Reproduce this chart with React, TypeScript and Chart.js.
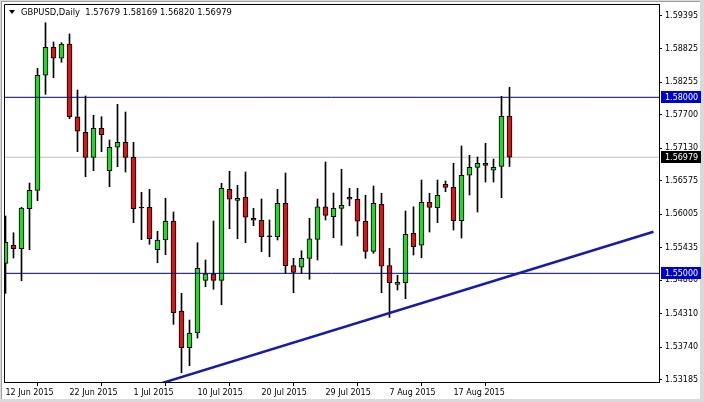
import React, { useEffect, useRef } from 'react';
import { Chart, registerables } from 'chart.js';
Chart.register(...registerables);

const symbolTitle = 'GBPUSD,Daily';

const dates = [
  '12 Jun 2015','14 Jun 2015','15 Jun 2015','16 Jun 2015','17 Jun 2015','18 Jun 2015','19 Jun 2015','21 Jun 2015',
  '22 Jun 2015','23 Jun 2015','24 Jun 2015','25 Jun 2015','26 Jun 2015','28 Jun 2015','29 Jun 2015','30 Jun 2015',
  '1 Jul 2015','2 Jul 2015','3 Jul 2015','5 Jul 2015','6 Jul 2015','7 Jul 2015','8 Jul 2015','9 Jul 2015',
  '10 Jul 2015','12 Jul 2015','13 Jul 2015','14 Jul 2015','15 Jul 2015','16 Jul 2015','17 Jul 2015','19 Jul 2015',
  '20 Jul 2015','21 Jul 2015','22 Jul 2015','23 Jul 2015','24 Jul 2015','26 Jul 2015','27 Jul 2015','28 Jul 2015',
  '29 Jul 2015','30 Jul 2015','31 Jul 2015','2 Aug 2015','3 Aug 2015','4 Aug 2015','5 Aug 2015','6 Aug 2015',
  '7 Aug 2015','9 Aug 2015','10 Aug 2015','11 Aug 2015','12 Aug 2015','13 Aug 2015','14 Aug 2015','16 Aug 2015',
  '17 Aug 2015','18 Aug 2015','19 Aug 2015','20 Aug 2015','21 Aug 2015','23 Aug 2015','24 Aug 2015','25 Aug 2015',
];

const opens = [
  1.55171, 1.55478, 1.55420, 1.56101, 1.56415, 1.58375, 1.58852, 1.58665,
  1.58908, 1.57669, 1.57403, 1.56977, 1.57472, 1.56749, 1.57148, 1.57233,
  1.56977, 1.56113, 1.56125, 1.55403, 1.55568, 1.55892, 1.54358, 1.53732,
  1.53983, 1.54881, 1.54993, 1.54881, 1.56432, 1.56244, 1.56296, 1.55938,
  1.55904, 1.55624, 1.55624, 1.56193, 1.55130, 1.55103, 1.55256, 1.55580,
  1.56135, 1.55965, 1.56108, 1.56296, 1.56262, 1.55887, 1.55375, 1.56176,
  1.55130, 1.54813, 1.54840, 1.55682, 1.55478, 1.56210, 1.56118, 1.56517,
  1.56466, 1.55897, 1.56671, 1.56807, 1.56875, 1.56756, 1.56824, 1.57679,
];

const highs = [
  1.55977, 1.55692, 1.56125, 1.56539, 1.58494, 1.59271, 1.58943, 1.58931,
  1.59079, 1.58124, 1.58022, 1.57693, 1.57669, 1.57272, 1.57881, 1.57749,
  1.57233, 1.56381, 1.56432, 1.55716, 1.56279, 1.56045, 1.54659, 1.54204,
  1.55522, 1.55227, 1.55892, 1.56534, 1.56739, 1.56500, 1.56727, 1.56108,
  1.56267, 1.55909, 1.56432, 1.56710, 1.55256, 1.55385, 1.55938, 1.56267,
  1.56897, 1.56369, 1.56773, 1.56449, 1.56449, 1.56330, 1.56488, 1.56364,
  1.55426, 1.54966, 1.56062, 1.56135, 1.56590, 1.56364, 1.56590, 1.56573,
  1.56875, 1.57170, 1.57011, 1.56982, 1.57216, 1.56948, 1.58017, 1.58169,
];

const lows = [
  1.54659, 1.55261, 1.54874, 1.55403, 1.56238, 1.58051, 1.58334, 1.58597,
  1.57635, 1.57073, 1.56647, 1.56749, 1.57073, 1.56476, 1.56817, 1.56727,
  1.55863, 1.55573, 1.55495, 1.55181, 1.55317, 1.54131, 1.53306, 1.53425,
  1.53897, 1.54772, 1.54728, 1.54465, 1.55760, 1.55590, 1.55522, 1.55812,
  1.55368, 1.55283, 1.55568, 1.55000, 1.54670, 1.55000, 1.54898, 1.55227,
  1.55909, 1.55607, 1.55478, 1.56152, 1.55636, 1.55256, 1.55341, 1.54670,
  1.54250, 1.54716, 1.54567, 1.55312, 1.55266, 1.55704, 1.55863, 1.56391,
  1.55738, 1.55602, 1.56335, 1.56045, 1.56556, 1.56556, 1.56289, 1.56820,
];

const closes = [
  1.55529, 1.55420, 1.56113, 1.56415, 1.58375, 1.58852, 1.58665, 1.58908,
  1.57669, 1.57421, 1.56977, 1.57472, 1.57363, 1.57148, 1.57233, 1.56977,
  1.56101, 1.56113, 1.55590, 1.55568, 1.55892, 1.54329, 1.53732, 1.53983,
  1.55085, 1.54993, 1.54881, 1.56449, 1.56262, 1.56279, 1.55955, 1.55904,
  1.55624, 1.55624, 1.56193, 1.55130, 1.55017, 1.55256, 1.55590, 1.56135,
  1.55989, 1.56108, 1.56159, 1.56262, 1.55887, 1.55375, 1.56193, 1.55120,
  1.54840, 1.54847, 1.55665, 1.55454, 1.56210, 1.56125, 1.56330, 1.56466,
  1.55897, 1.56671, 1.56807, 1.56875, 1.56841, 1.56807, 1.57676, 1.56979,
];

const yTicks = [1.59395, 1.58825, 1.58255, 1.57700, 1.57130, 1.56575, 1.56005, 1.55435, 1.54880, 1.54310, 1.53740, 1.53185];
const xTickIndex = [0, 8, 16, 24, 32, 40, 48, 56];

const levels = [1.58000, 1.55000];
const trendX = [19, 81];
const trendY = [1.53106, 1.55709];

const X_MIN = -0.1875;
const X_MAX = 81.6875;
const Y_MIN = 1.53148;
const Y_MAX = 1.59590;

const GREEN = '#32CD32';
const RED = '#C81E1E';
const NAVY = '#000080';
const FONT = 'DejaVu Sans';

export default function App() {
  const ref = useRef<HTMLCanvasElement>(null);

  useEffect(() => {
    const canvas = ref.current;
    if (!canvas) return;
    const last = closes.length - 1;
    const lastClose = closes[last];

    const bodyColors = opens.map((o, i) => (closes[i] > o ? GREEN : closes[i] < o ? RED : '#000'));

    const framePlugin = {
      id: 'mt4frame',
      beforeDraw(chart: any) {
        const c = chart.ctx;
        c.save();
        c.fillStyle = '#D9D9D9';
        c.fillRect(0, 0, chart.width, chart.height);
        c.fillStyle = '#FFFFFF';
        c.fillRect(2, 2, 698, 397);
        c.fillStyle = '#A0A0A0';
        c.fillRect(1, 1, 699, 1);
        c.fillRect(1, 1, 1, 398);
        c.restore();
      },
      afterDraw(chart: any) {
        const c = chart.ctx;
        const a = chart.chartArea;
        const ys = chart.scales.y;
        c.save();
        c.strokeStyle = '#000';
        c.lineWidth = 1;
        c.beginPath();
        c.moveTo(Math.round(a.left) + 0.5, Math.round(a.bottom) + 0.5);
        c.lineTo(Math.round(a.left) + 0.5, Math.round(a.top) + 0.5);
        c.lineTo(Math.round(a.right) + 0.5, Math.round(a.top) + 0.5);
        c.stroke();

        const drawBox = (v: number, bg: string) => {
          const y = Math.round(ys.getPixelForValue(v));
          c.fillStyle = bg;
          c.fillRect(Math.round(a.right) + 2, y - 6, 40, 12);
          c.fillStyle = '#FFF';
          c.font = `8px "${FONT}"`;
          c.textBaseline = 'middle';
          c.textAlign = 'left';
          c.fillText(v.toFixed(5), Math.round(a.right) + 6, y + 0.5);
        };
        levels.forEach((v) => drawBox(v, '#0000CD'));
        drawBox(lastClose, '#000000');

        // title
        c.fillStyle = '#000';
        c.beginPath();
        c.moveTo(9, 10);
        c.lineTo(15, 10);
        c.lineTo(12, 14);
        c.closePath();
        c.fill();
        c.font = `8.4px "${FONT}"`;
        c.textBaseline = 'middle';
        c.textAlign = 'left';
        const t = `${symbolTitle}  ${opens[last].toFixed(5)} ${highs[last].toFixed(5)} ${lows[last].toFixed(5)} ${closes[last].toFixed(5)}`;
        c.fillText(t, 21, 12.5);
        c.restore();
      },
    };

    const chart = new Chart(canvas, {
      type: 'bar',
      data: {
        datasets: [
          {
            type: 'line',
            label: 'last',
            data: [{ x: X_MIN, y: lastClose }, { x: X_MAX, y: lastClose }],
            borderColor: '#C0C0C0',
            borderWidth: 1,
            pointRadius: 0,
            order: 5,
          } as any,
          {
            type: 'bar',
            label: 'wicks',
            data: lows.map((l, i) => ({ x: i, y: [l, highs[i]] })),
            backgroundColor: '#000',
            borderWidth: 0,
            barThickness: 1,
            order: 3,
          } as any,
          {
            type: 'bar',
            label: 'bodies',
            data: opens.map((o, i) => ({ x: i, y: [o, closes[i]] })),
            backgroundColor: bodyColors,
            borderColor: '#000',
            borderWidth: 1,
            borderSkipped: false,
            barThickness: 5,
            minBarLength: 1,
            order: 2,
          } as any,
          ...levels.map((v) => ({
            type: 'line',
            label: 'level',
            data: [{ x: X_MIN, y: v }, { x: X_MAX, y: v }],
            borderColor: NAVY,
            borderWidth: 1,
            pointRadius: 0,
            order: 1,
          } as any)),
          {
            type: 'line',
            label: 'trend',
            data: trendX.map((x, i) => ({ x, y: trendY[i] })),
            borderColor: '#1A1AA8',
            borderWidth: 2.5,
            pointRadius: 0,
            order: 0,
          } as any,
        ],
      },
      options: {
        animation: false,
        responsive: false,
        devicePixelRatio: 1,
        events: [],
        layout: { padding: { left: 4, top: 4, right: 0, bottom: 0 } },
        datasets: { bar: { grouped: false } as any },
        plugins: { legend: { display: false }, tooltip: { enabled: false }, title: { display: false } },
        scales: {
          x: {
            type: 'linear',
            min: X_MIN,
            max: X_MAX,
            offset: false,
            afterBuildTicks: (s: any) => {
              s.ticks = xTickIndex.map((v) => ({ value: v }));
            },
            afterFit: (s: any) => {
              s.height = 20;
              s.paddingLeft = 0;
              s.paddingRight = 0;
            },
            ticks: {
              autoSkip: false,
              maxRotation: 0,
              minRotation: 0,
              align: 'start',
              padding: 2,
              color: '#000',
              font: { family: FONT, size: 8 },
              callback: (v: any) => dates[Math.round(Number(v))] ?? '',
            },
            grid: { drawOnChartArea: false, drawTicks: true, tickLength: 4, color: '#000' },
            border: { display: true, color: '#000' },
          },
          y: {
            type: 'linear',
            position: 'right',
            min: Y_MIN,
            max: Y_MAX,
            afterBuildTicks: (s: any) => {
              s.ticks = yTicks.map((v) => ({ value: v }));
            },
            afterFit: (s: any) => {
              s.width = 45;
              s.paddingTop = 0;
              s.paddingBottom = 0;
            },
            ticks: {
              autoSkip: false,
              padding: 3,
              color: '#000',
              font: { family: FONT, size: 8 },
              callback: (v: any) => Number(v).toFixed(5),
            },
            grid: { drawOnChartArea: false, drawTicks: true, tickLength: 3, color: '#000' },
            border: { display: true, color: '#000' },
          },
        },
      } as any,
      plugins: [framePlugin],
    });

    return () => chart.destroy();
  }, []);

  return (
    <div style={{ position: 'fixed', left: 0, top: 0, width: 704, height: 402 }}>
      <canvas ref={ref} width={704} height={402} style={{ display: 'block', width: 704, height: 402 }} />
    </div>
  );
}
